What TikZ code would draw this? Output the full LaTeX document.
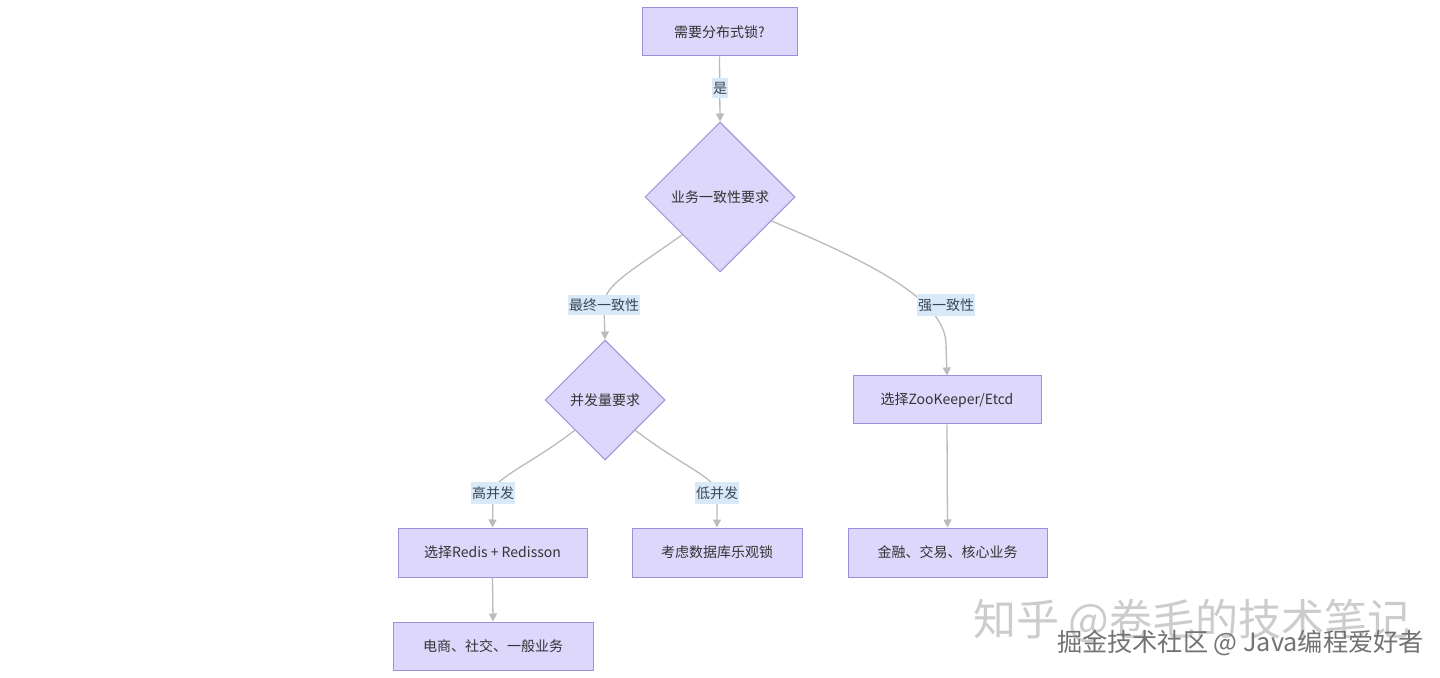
\documentclass[tikz,border=0pt]{standalone}
\usepackage{fontspec}
\setmainfont{Noto Sans CJK SC}
\usetikzlibrary{shapes.geometric,arrows.meta}
\definecolor{nodefill}{HTML}{DCD7FB}
\definecolor{nodedraw}{HTML}{9C8FDB}
\definecolor{edgecol}{HTML}{BBBBBB}
\definecolor{lblbg}{HTML}{D9E9F8}
\definecolor{txt}{HTML}{333333}
\definecolor{lbltxt}{HTML}{3A4656}
\begin{document}
\begin{tikzpicture}[x=0.5pt,y=-0.5pt,
  every node/.style={font=\fontsize{7pt}{8.5pt}\selectfont, text=txt},
  box/.style={draw=nodedraw, fill=nodefill, line width=0.5pt, rectangle, inner sep=0pt},
  decision/.style={draw=nodedraw, fill=nodefill, line width=0.5pt, diamond, aspect=1, inner sep=0pt},
  edge/.style={draw=edgecol, line width=0.65pt, -{Triangle[length=4pt,width=4pt]}},
  lbl/.style={fill=lblbg, text=lbltxt, inner xsep=0.5pt, inner ysep=2pt}
]
\useasboundingbox[fill=white] (0,0) rectangle (1440,678);

% nodes
\node[box, minimum width=77.5pt, minimum height=24pt] (start) at (719.5,32) {需要分布式锁?};
\node[decision, minimum size=75pt] (d1) at (720,197) {业务一致性要求};
\node[decision, minimum size=60pt] (d2) at (605,400) {并发量要求};
\node[box, minimum width=94pt, minimum height=24pt] (zk) at (947,400) {选择ZooKeeper/Etcd};
\node[box, minimum width=94.5pt, minimum height=24.5pt] (redis) at (492.5,552.5) {选择Redis + Redisson};
\node[box, minimum width=85pt, minimum height=24.5pt] (db) at (717,552.5) {考虑数据库乐观锁};
\node[box, minimum width=99.5pt, minimum height=24.5pt] (fin) at (947.5,552.5) {金融、交易、核心业务};
\node[box, minimum width=100pt, minimum height=24pt] (ecom) at (493,646) {电商、社交、一般业务};

% label anchor coordinates
\coordinate (c1) at (720,88);
\coordinate (c2) at (604,305);
\coordinate (c3) at (946,305);
\coordinate (c4) at (493,493);
\coordinate (c5) at (717,493);

% edges
\draw[edge] (start.south) -- (d1.north);
\draw[edge] (d1.south west) .. controls (630,272) and (604,285) .. (c2) -- (d2.north);
\draw[edge] (d1.-25) .. controls (870,262) and (946,300) .. (946,345) -- (zk.north);
\draw[edge] (d2.south west) .. controls (530,465) and (493,478) .. (c4) -- (redis.north);
\draw[edge] (d2.south east) .. controls (680,465) and (717,478) .. (c5) -- (db.north);
\draw[edge] (zk.south) -- (fin.north);
\draw[edge] (redis.south) -- (ecom.north);

% edge labels
\node[lbl] (l1) at (c1) {是};
\node[lbl] (l2) at (c2) {最终一致性};
\node[lbl] (l3) at (c3) {强一致性};
\node[lbl] (l4) at (c4) {高并发};
\node[lbl] (l5) at (c5) {低并发};

% watermarks
\node[anchor=west, text=black!20, font=\fontsize{21.5pt}{23pt}\selectfont] (wm1) at (966,621) {知乎 @卷毛的技术笔记};
\node[anchor=west, text=black!55, font=\fontsize{12.6pt}{14pt}\selectfont] (wm2) at (1050,643) {掘金技术社区 @ Java编程爱好者};
\end{tikzpicture}
\end{document}
